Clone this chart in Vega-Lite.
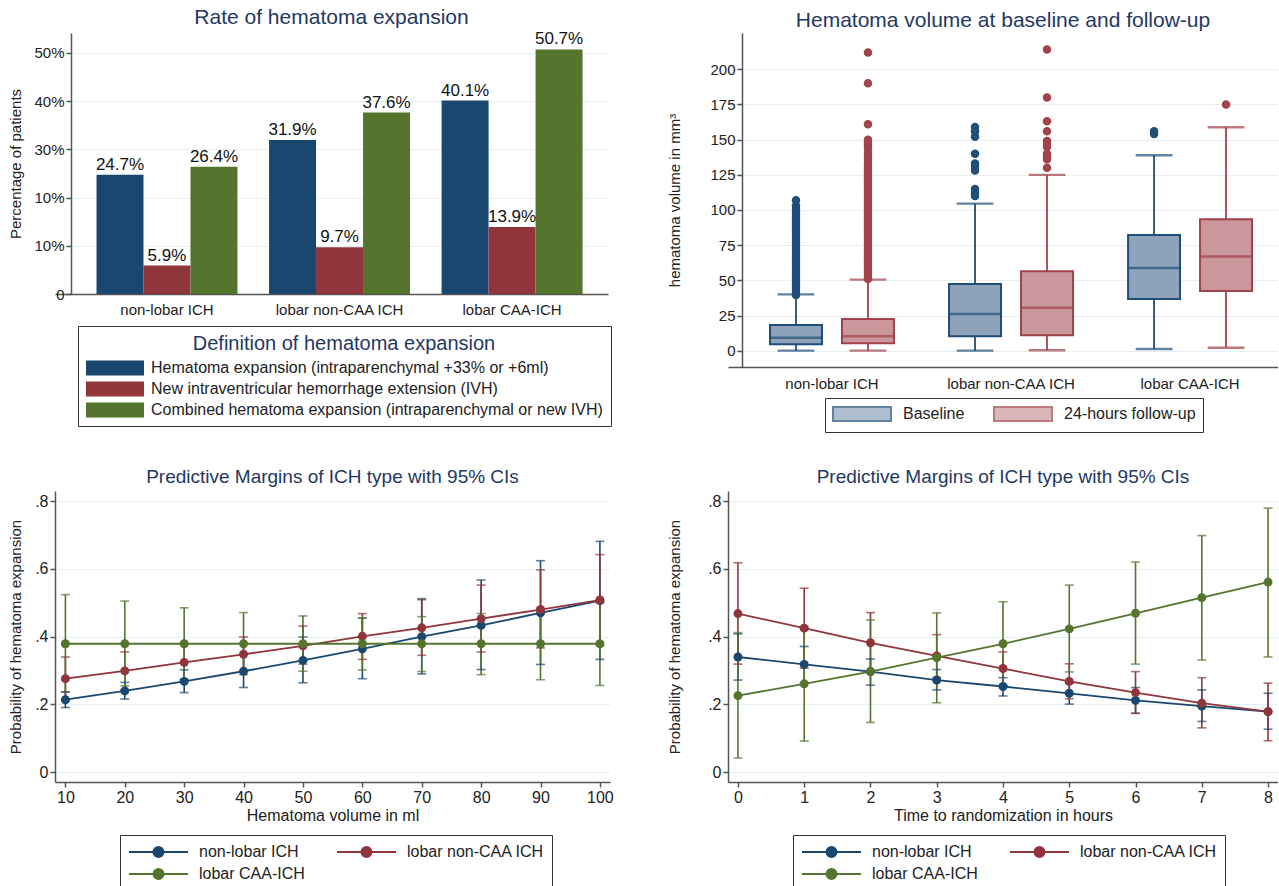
{
  "$schema": "https://vega.github.io/schema/vega-lite/v6.json",
  "background": "white",
  "padding": {"left": 8, "top": 7, "right": 0, "bottom": 0},
  "config": {
    "font": "Liberation Sans",
    "view": {"stroke": null},
    "title": {"font": "Liberation Sans", "fontWeight": "normal", "color": "#1f3864"},
    "axis": {"labelFont": "Liberation Sans", "titleFont": "Liberation Sans", "titleFontWeight": "normal", "labelColor": "#222", "titleColor": "#222", "domainColor": "#555", "domainWidth": 1.5, "tickColor": "#555", "tickWidth": 1.5, "tickSize": 5, "gridColor": "#e8eff2", "gridWidth": 1.2},
    "legend": {"labelFont": "Liberation Sans", "titleFont": "Liberation Sans", "labelColor": "#222"}
  },
  "columns": 2,
  "align": "none",
  "spacing": {"row": 35, "column": 53},
  "resolve": {"scale": {"x": "independent", "y": "independent", "xOffset": "independent", "color": "independent", "fill": "independent", "stroke": "independent"}, "legend": {"color": "independent", "fill": "independent", "stroke": "independent"}},
  "datasets": {
    "bars": [
      {"type": "non-lobar ICH", "def": "Hematoma expansion (intraparenchymal +33% or +6ml)", "pct": 24.7, "label": "24.7%"},
      {"type": "non-lobar ICH", "def": "New intraventricular hemorrhage extension (IVH)", "pct": 5.9, "label": "5.9%"},
      {"type": "non-lobar ICH", "def": "Combined hematoma expansion (intraparenchymal or new IVH)", "pct": 26.4, "label": "26.4%"},
      {"type": "lobar non-CAA ICH", "def": "Hematoma expansion (intraparenchymal +33% or +6ml)", "pct": 31.9, "label": "31.9%"},
      {"type": "lobar non-CAA ICH", "def": "New intraventricular hemorrhage extension (IVH)", "pct": 9.7, "label": "9.7%"},
      {"type": "lobar non-CAA ICH", "def": "Combined hematoma expansion (intraparenchymal or new IVH)", "pct": 37.6, "label": "37.6%"},
      {"type": "lobar CAA-ICH", "def": "Hematoma expansion (intraparenchymal +33% or +6ml)", "pct": 40.1, "label": "40.1%"},
      {"type": "lobar CAA-ICH", "def": "New intraventricular hemorrhage extension (IVH)", "pct": 13.9, "label": "13.9%"},
      {"type": "lobar CAA-ICH", "def": "Combined hematoma expansion (intraparenchymal or new IVH)", "pct": 50.7, "label": "50.7%"}
    ],
    "boxes": [
      {"group": "non-lobar ICH", "time": "Baseline", "lower": 0, "q1": 4.5, "median": 9.2, "q3": 18.2, "upper": 40},
      {"group": "non-lobar ICH", "time": "24-hours follow-up", "lower": 0, "q1": 5.2, "median": 10.2, "q3": 22.5, "upper": 50.5},
      {"group": "lobar non-CAA ICH", "time": "Baseline", "lower": 0, "q1": 10.2, "median": 26, "q3": 47.4, "upper": 104.5},
      {"group": "lobar non-CAA ICH", "time": "24-hours follow-up", "lower": 0.3, "q1": 10.9, "median": 30.6, "q3": 56.4, "upper": 125},
      {"group": "lobar CAA-ICH", "time": "Baseline", "lower": 1.2, "q1": 36.7, "median": 58.8, "q3": 82.2, "upper": 138.9},
      {"group": "lobar CAA-ICH", "time": "24-hours follow-up", "lower": 2.1, "q1": 42.4, "median": 67, "q3": 93.4, "upper": 158.8}
    ],
    "outliers": [
      {"group": "non-lobar ICH", "time": "Baseline", "v": 39.5},
      {"group": "non-lobar ICH", "time": "Baseline", "v": 41},
      {"group": "non-lobar ICH", "time": "Baseline", "v": 43},
      {"group": "non-lobar ICH", "time": "Baseline", "v": 45},
      {"group": "non-lobar ICH", "time": "Baseline", "v": 47},
      {"group": "non-lobar ICH", "time": "Baseline", "v": 49},
      {"group": "non-lobar ICH", "time": "Baseline", "v": 51},
      {"group": "non-lobar ICH", "time": "Baseline", "v": 53},
      {"group": "non-lobar ICH", "time": "Baseline", "v": 55},
      {"group": "non-lobar ICH", "time": "Baseline", "v": 57},
      {"group": "non-lobar ICH", "time": "Baseline", "v": 59},
      {"group": "non-lobar ICH", "time": "Baseline", "v": 61},
      {"group": "non-lobar ICH", "time": "Baseline", "v": 63},
      {"group": "non-lobar ICH", "time": "Baseline", "v": 65},
      {"group": "non-lobar ICH", "time": "Baseline", "v": 67},
      {"group": "non-lobar ICH", "time": "Baseline", "v": 69},
      {"group": "non-lobar ICH", "time": "Baseline", "v": 71},
      {"group": "non-lobar ICH", "time": "Baseline", "v": 73},
      {"group": "non-lobar ICH", "time": "Baseline", "v": 75},
      {"group": "non-lobar ICH", "time": "Baseline", "v": 77},
      {"group": "non-lobar ICH", "time": "Baseline", "v": 79},
      {"group": "non-lobar ICH", "time": "Baseline", "v": 81},
      {"group": "non-lobar ICH", "time": "Baseline", "v": 83},
      {"group": "non-lobar ICH", "time": "Baseline", "v": 85},
      {"group": "non-lobar ICH", "time": "Baseline", "v": 87},
      {"group": "non-lobar ICH", "time": "Baseline", "v": 89},
      {"group": "non-lobar ICH", "time": "Baseline", "v": 91},
      {"group": "non-lobar ICH", "time": "Baseline", "v": 93},
      {"group": "non-lobar ICH", "time": "Baseline", "v": 95},
      {"group": "non-lobar ICH", "time": "Baseline", "v": 97},
      {"group": "non-lobar ICH", "time": "Baseline", "v": 99},
      {"group": "non-lobar ICH", "time": "Baseline", "v": 101},
      {"group": "non-lobar ICH", "time": "Baseline", "v": 103},
      {"group": "non-lobar ICH", "time": "Baseline", "v": 107},
      {"group": "non-lobar ICH", "time": "24-hours follow-up", "v": 51},
      {"group": "non-lobar ICH", "time": "24-hours follow-up", "v": 53},
      {"group": "non-lobar ICH", "time": "24-hours follow-up", "v": 55},
      {"group": "non-lobar ICH", "time": "24-hours follow-up", "v": 57},
      {"group": "non-lobar ICH", "time": "24-hours follow-up", "v": 59},
      {"group": "non-lobar ICH", "time": "24-hours follow-up", "v": 61},
      {"group": "non-lobar ICH", "time": "24-hours follow-up", "v": 63},
      {"group": "non-lobar ICH", "time": "24-hours follow-up", "v": 65},
      {"group": "non-lobar ICH", "time": "24-hours follow-up", "v": 67},
      {"group": "non-lobar ICH", "time": "24-hours follow-up", "v": 69},
      {"group": "non-lobar ICH", "time": "24-hours follow-up", "v": 71},
      {"group": "non-lobar ICH", "time": "24-hours follow-up", "v": 73},
      {"group": "non-lobar ICH", "time": "24-hours follow-up", "v": 75},
      {"group": "non-lobar ICH", "time": "24-hours follow-up", "v": 77},
      {"group": "non-lobar ICH", "time": "24-hours follow-up", "v": 79},
      {"group": "non-lobar ICH", "time": "24-hours follow-up", "v": 81},
      {"group": "non-lobar ICH", "time": "24-hours follow-up", "v": 83},
      {"group": "non-lobar ICH", "time": "24-hours follow-up", "v": 85},
      {"group": "non-lobar ICH", "time": "24-hours follow-up", "v": 87},
      {"group": "non-lobar ICH", "time": "24-hours follow-up", "v": 89},
      {"group": "non-lobar ICH", "time": "24-hours follow-up", "v": 91},
      {"group": "non-lobar ICH", "time": "24-hours follow-up", "v": 93},
      {"group": "non-lobar ICH", "time": "24-hours follow-up", "v": 95},
      {"group": "non-lobar ICH", "time": "24-hours follow-up", "v": 97},
      {"group": "non-lobar ICH", "time": "24-hours follow-up", "v": 99},
      {"group": "non-lobar ICH", "time": "24-hours follow-up", "v": 101},
      {"group": "non-lobar ICH", "time": "24-hours follow-up", "v": 103},
      {"group": "non-lobar ICH", "time": "24-hours follow-up", "v": 105},
      {"group": "non-lobar ICH", "time": "24-hours follow-up", "v": 107},
      {"group": "non-lobar ICH", "time": "24-hours follow-up", "v": 109},
      {"group": "non-lobar ICH", "time": "24-hours follow-up", "v": 111},
      {"group": "non-lobar ICH", "time": "24-hours follow-up", "v": 113},
      {"group": "non-lobar ICH", "time": "24-hours follow-up", "v": 115},
      {"group": "non-lobar ICH", "time": "24-hours follow-up", "v": 117},
      {"group": "non-lobar ICH", "time": "24-hours follow-up", "v": 119},
      {"group": "non-lobar ICH", "time": "24-hours follow-up", "v": 121},
      {"group": "non-lobar ICH", "time": "24-hours follow-up", "v": 123},
      {"group": "non-lobar ICH", "time": "24-hours follow-up", "v": 125},
      {"group": "non-lobar ICH", "time": "24-hours follow-up", "v": 127},
      {"group": "non-lobar ICH", "time": "24-hours follow-up", "v": 129},
      {"group": "non-lobar ICH", "time": "24-hours follow-up", "v": 131},
      {"group": "non-lobar ICH", "time": "24-hours follow-up", "v": 133},
      {"group": "non-lobar ICH", "time": "24-hours follow-up", "v": 136},
      {"group": "non-lobar ICH", "time": "24-hours follow-up", "v": 138},
      {"group": "non-lobar ICH", "time": "24-hours follow-up", "v": 141},
      {"group": "non-lobar ICH", "time": "24-hours follow-up", "v": 144},
      {"group": "non-lobar ICH", "time": "24-hours follow-up", "v": 146},
      {"group": "non-lobar ICH", "time": "24-hours follow-up", "v": 148},
      {"group": "non-lobar ICH", "time": "24-hours follow-up", "v": 150},
      {"group": "non-lobar ICH", "time": "24-hours follow-up", "v": 161},
      {"group": "non-lobar ICH", "time": "24-hours follow-up", "v": 190},
      {"group": "non-lobar ICH", "time": "24-hours follow-up", "v": 212},
      {"group": "lobar non-CAA ICH", "time": "Baseline", "v": 110},
      {"group": "lobar non-CAA ICH", "time": "Baseline", "v": 112},
      {"group": "lobar non-CAA ICH", "time": "Baseline", "v": 115},
      {"group": "lobar non-CAA ICH", "time": "Baseline", "v": 128},
      {"group": "lobar non-CAA ICH", "time": "Baseline", "v": 131},
      {"group": "lobar non-CAA ICH", "time": "Baseline", "v": 133},
      {"group": "lobar non-CAA ICH", "time": "Baseline", "v": 140},
      {"group": "lobar non-CAA ICH", "time": "Baseline", "v": 152},
      {"group": "lobar non-CAA ICH", "time": "Baseline", "v": 156},
      {"group": "lobar non-CAA ICH", "time": "Baseline", "v": 159},
      {"group": "lobar non-CAA ICH", "time": "24-hours follow-up", "v": 130},
      {"group": "lobar non-CAA ICH", "time": "24-hours follow-up", "v": 136},
      {"group": "lobar non-CAA ICH", "time": "24-hours follow-up", "v": 138},
      {"group": "lobar non-CAA ICH", "time": "24-hours follow-up", "v": 140},
      {"group": "lobar non-CAA ICH", "time": "24-hours follow-up", "v": 145},
      {"group": "lobar non-CAA ICH", "time": "24-hours follow-up", "v": 147},
      {"group": "lobar non-CAA ICH", "time": "24-hours follow-up", "v": 149},
      {"group": "lobar non-CAA ICH", "time": "24-hours follow-up", "v": 156},
      {"group": "lobar non-CAA ICH", "time": "24-hours follow-up", "v": 163},
      {"group": "lobar non-CAA ICH", "time": "24-hours follow-up", "v": 180},
      {"group": "lobar non-CAA ICH", "time": "24-hours follow-up", "v": 214},
      {"group": "lobar CAA-ICH", "time": "Baseline", "v": 154},
      {"group": "lobar CAA-ICH", "time": "Baseline", "v": 156},
      {"group": "lobar CAA-ICH", "time": "24-hours follow-up", "v": 175}
    ],
    "margvol": [
      {"type": "non-lobar ICH", "x": 10, "p": 0.214, "lo": 0.191, "hi": 0.237},
      {"type": "non-lobar ICH", "x": 20, "p": 0.240, "lo": 0.216, "hi": 0.265},
      {"type": "non-lobar ICH", "x": 30, "p": 0.268, "lo": 0.235, "hi": 0.302},
      {"type": "non-lobar ICH", "x": 40, "p": 0.298, "lo": 0.250, "hi": 0.348},
      {"type": "non-lobar ICH", "x": 50, "p": 0.330, "lo": 0.264, "hi": 0.399},
      {"type": "non-lobar ICH", "x": 60, "p": 0.364, "lo": 0.276, "hi": 0.455},
      {"type": "non-lobar ICH", "x": 70, "p": 0.400, "lo": 0.290, "hi": 0.512},
      {"type": "non-lobar ICH", "x": 80, "p": 0.433, "lo": 0.303, "hi": 0.567},
      {"type": "non-lobar ICH", "x": 90, "p": 0.470, "lo": 0.318, "hi": 0.624},
      {"type": "non-lobar ICH", "x": 100, "p": 0.506, "lo": 0.333, "hi": 0.681},
      {"type": "lobar non-CAA ICH", "x": 10, "p": 0.276, "lo": 0.212, "hi": 0.340},
      {"type": "lobar non-CAA ICH", "x": 20, "p": 0.299, "lo": 0.243, "hi": 0.355},
      {"type": "lobar non-CAA ICH", "x": 30, "p": 0.324, "lo": 0.272, "hi": 0.378},
      {"type": "lobar non-CAA ICH", "x": 40, "p": 0.348, "lo": 0.298, "hi": 0.399},
      {"type": "lobar non-CAA ICH", "x": 50, "p": 0.373, "lo": 0.319, "hi": 0.431},
      {"type": "lobar non-CAA ICH", "x": 60, "p": 0.401, "lo": 0.333, "hi": 0.468},
      {"type": "lobar non-CAA ICH", "x": 70, "p": 0.426, "lo": 0.345, "hi": 0.509},
      {"type": "lobar non-CAA ICH", "x": 80, "p": 0.453, "lo": 0.355, "hi": 0.552},
      {"type": "lobar non-CAA ICH", "x": 90, "p": 0.480, "lo": 0.367, "hi": 0.597},
      {"type": "lobar non-CAA ICH", "x": 100, "p": 0.508, "lo": 0.374, "hi": 0.642},
      {"type": "lobar CAA-ICH", "x": 10, "p": 0.379, "lo": 0.237, "hi": 0.524},
      {"type": "lobar CAA-ICH", "x": 20, "p": 0.379, "lo": 0.255, "hi": 0.505},
      {"type": "lobar CAA-ICH", "x": 30, "p": 0.379, "lo": 0.274, "hi": 0.485},
      {"type": "lobar CAA-ICH", "x": 40, "p": 0.379, "lo": 0.288, "hi": 0.471},
      {"type": "lobar CAA-ICH", "x": 50, "p": 0.379, "lo": 0.298, "hi": 0.461},
      {"type": "lobar CAA-ICH", "x": 60, "p": 0.379, "lo": 0.302, "hi": 0.455},
      {"type": "lobar CAA-ICH", "x": 70, "p": 0.379, "lo": 0.297, "hi": 0.459},
      {"type": "lobar CAA-ICH", "x": 80, "p": 0.379, "lo": 0.288, "hi": 0.468},
      {"type": "lobar CAA-ICH", "x": 90, "p": 0.379, "lo": 0.273, "hi": 0.483},
      {"type": "lobar CAA-ICH", "x": 100, "p": 0.379, "lo": 0.256, "hi": 0.500}
    ],
    "margtime": [
      {"type": "non-lobar ICH", "x": 0, "p": 0.340, "lo": 0.272, "hi": 0.408},
      {"type": "non-lobar ICH", "x": 1, "p": 0.318, "lo": 0.265, "hi": 0.371},
      {"type": "non-lobar ICH", "x": 2, "p": 0.297, "lo": 0.257, "hi": 0.334},
      {"type": "non-lobar ICH", "x": 3, "p": 0.272, "lo": 0.243, "hi": 0.303},
      {"type": "non-lobar ICH", "x": 4, "p": 0.253, "lo": 0.225, "hi": 0.279},
      {"type": "non-lobar ICH", "x": 5, "p": 0.233, "lo": 0.201, "hi": 0.262},
      {"type": "non-lobar ICH", "x": 6, "p": 0.212, "lo": 0.174, "hi": 0.250},
      {"type": "non-lobar ICH", "x": 7, "p": 0.195, "lo": 0.150, "hi": 0.243},
      {"type": "non-lobar ICH", "x": 8, "p": 0.179, "lo": 0.127, "hi": 0.233},
      {"type": "lobar non-CAA ICH", "x": 0, "p": 0.468, "lo": 0.319, "hi": 0.618},
      {"type": "lobar non-CAA ICH", "x": 1, "p": 0.425, "lo": 0.307, "hi": 0.543},
      {"type": "lobar non-CAA ICH", "x": 2, "p": 0.382, "lo": 0.294, "hi": 0.471},
      {"type": "lobar non-CAA ICH", "x": 3, "p": 0.343, "lo": 0.280, "hi": 0.406},
      {"type": "lobar non-CAA ICH", "x": 4, "p": 0.306, "lo": 0.257, "hi": 0.355},
      {"type": "lobar non-CAA ICH", "x": 5, "p": 0.268, "lo": 0.217, "hi": 0.320},
      {"type": "lobar non-CAA ICH", "x": 6, "p": 0.235, "lo": 0.174, "hi": 0.297},
      {"type": "lobar non-CAA ICH", "x": 7, "p": 0.204, "lo": 0.131, "hi": 0.279},
      {"type": "lobar non-CAA ICH", "x": 8, "p": 0.179, "lo": 0.093, "hi": 0.263},
      {"type": "lobar CAA-ICH", "x": 0, "p": 0.226, "lo": 0.042, "hi": 0.412},
      {"type": "lobar CAA-ICH", "x": 1, "p": 0.261, "lo": 0.092, "hi": 0.430},
      {"type": "lobar CAA-ICH", "x": 2, "p": 0.297, "lo": 0.147, "hi": 0.449},
      {"type": "lobar CAA-ICH", "x": 3, "p": 0.338, "lo": 0.205, "hi": 0.470},
      {"type": "lobar CAA-ICH", "x": 4, "p": 0.379, "lo": 0.255, "hi": 0.503},
      {"type": "lobar CAA-ICH", "x": 5, "p": 0.423, "lo": 0.296, "hi": 0.552},
      {"type": "lobar CAA-ICH", "x": 6, "p": 0.469, "lo": 0.319, "hi": 0.620},
      {"type": "lobar CAA-ICH", "x": 7, "p": 0.515, "lo": 0.331, "hi": 0.698},
      {"type": "lobar CAA-ICH", "x": 8, "p": 0.561, "lo": 0.340, "hi": 0.779}
    ]
  },
  "concat": [
    {
      "width": 553,
      "height": 261,
      "title": {"text": "Rate of hematoma expansion", "fontSize": 21, "offset": 2},
      "data": {"name": "bars"},
      "encoding": {
        "x": {"field": "type", "type": "nominal", "sort": ["non-lobar ICH", "lobar non-CAA ICH", "lobar CAA-ICH"], "scale": {"paddingInner": 0.183, "paddingOuter": 0.194, "align": 0.62}, "axis": {"title": null, "labelAngle": 0, "ticks": false, "labelPadding": 8, "labelFontSize": 15}},
        "xOffset": {"field": "def", "type": "nominal", "sort": ["Hematoma expansion (intraparenchymal +33% or +6ml)", "New intraventricular hemorrhage extension (IVH)", "Combined hematoma expansion (intraparenchymal or new IVH)"], "scale": {"paddingInner": 0, "paddingOuter": 0}},
        "y": {"field": "pct", "type": "quantitative", "scale": {"domain": [0, 54.1], "nice": false, "zero": true}, "axis": {"offset": -16, "title": "Percentage of patients", "titleFontSize": 15, "titlePadding": 10, "labelFontSize": 15, "values": [0, 10, 20, 30, 40, 50], "labelExpr": "datum.value == 0 ? '0' : (datum.value == 20 ? '10%' : datum.value + '%')", "grid": true}}
      },
      "layer": [
        {
          "mark": {"type": "bar"},
          "encoding": {
            "color": {"field": "def", "type": "nominal", "sort": ["Hematoma expansion (intraparenchymal +33% or +6ml)", "New intraventricular hemorrhage extension (IVH)", "Combined hematoma expansion (intraparenchymal or new IVH)"],
              "scale": {"domain": ["Hematoma expansion (intraparenchymal +33% or +6ml)", "New intraventricular hemorrhage extension (IVH)", "Combined hematoma expansion (intraparenchymal or new IVH)"], "range": ["#1a476f", "#90353b", "#55752f"]},
              "legend": {"title": "Definition of hematoma expansion", "orient": "none", "legendX": 23, "legendY": 293, "direction": "vertical", "titleFontSize": 20, "titleFontWeight": "normal", "titleColor": "#1f3864", "titleAnchor": "middle", "titleLimit": 700, "titlePadding": 6, "labelFontSize": 16, "labelLimit": 700, "symbolType": "M-3.625,-0.9375H3.625V0.9375H-3.625Z", "symbolSize": 256, "symbolOffset": 21, "symbolStrokeWidth": 0, "symbolOpacity": 1, "labelOffset": 28, "rowPadding": 5, "strokeColor": "#333", "padding": 8}}
          }
        },
        {
          "mark": {"type": "text", "baseline": "bottom", "dy": -1, "fontSize": 17, "color": "#111"},
          "encoding": {"text": {"field": "label", "type": "nominal"}}
        }
      ]
    },
    {
      "width": 550,
      "height": 334,
      "title": {"text": "Hematoma volume at baseline and follow-up", "fontSize": 21, "offset": 2},
      "encoding": {
        "x": {"field": "group", "type": "nominal", "sort": ["non-lobar ICH", "lobar non-CAA ICH", "lobar CAA-ICH"], "scale": {"paddingInner": 0.196, "paddingOuter": 0.134, "align": 0.667}, "axis": {"title": null, "labelAngle": 0, "ticks": false, "labelPadding": 9, "labelFontSize": 15}},
        "xOffset": {"field": "time", "type": "nominal", "sort": ["Baseline", "24-hours follow-up"], "scale": {"domain": ["Baseline", "24-hours follow-up"], "paddingInner": 0.278, "paddingOuter": 0.139}}
      },
      "layer": [
        {
          "data": {"name": "boxes"},
          "mark": {"type": "rule", "strokeWidth": 1.8},
          "encoding": {
            "y": {"field": "lower", "type": "quantitative", "scale": {"domain": [-11.6, 225.8], "nice": false, "zero": false}, "axis": {"offset": -14, "title": "hematoma volume in mm³", "titleFontSize": 15, "titlePadding": 27, "labelFontSize": 15, "values": [0, 25, 50, 75, 100, 125, 150, 175, 200], "grid": true}},
            "y2": {"field": "q1"},
            "stroke": {"field": "time", "type": "nominal", "scale": {"domain": ["Baseline", "24-hours follow-up"], "range": ["#1f4e79", "#a3424a"]},
              "legend": {"title": null, "orient": "none", "legendX": 97, "legendY": 365, "direction": "horizontal", "labelFontSize": 16, "symbolType": "M-3.625,-0.875H3.625V0.875H-3.625Z", "symbolSize": 256, "symbolOffset": 21, "symbolStrokeWidth": 2, "symbolOpacity": 1, "labelOffset": 32, "columnPadding": 25, "strokeColor": "#333", "padding": 7}}
          }
        },
        {
          "data": {"name": "boxes"},
          "mark": {"type": "rule", "strokeWidth": 1.8},
          "encoding": {
            "y": {"field": "q3", "type": "quantitative"},
            "y2": {"field": "upper"},
            "stroke": {"field": "time", "type": "nominal"}
          }
        },
        {
          "data": {"name": "boxes"},
          "mark": {"type": "tick", "size": 35, "thickness": 0.5, "filled": false, "strokeWidth": 1.8},
          "encoding": {
            "y": {"field": "lower", "type": "quantitative"},
            "stroke": {"field": "time", "type": "nominal"}
          }
        },
        {
          "data": {"name": "boxes"},
          "mark": {"type": "tick", "size": 35, "thickness": 0.5, "filled": false, "strokeWidth": 1.8},
          "encoding": {
            "y": {"field": "upper", "type": "quantitative"},
            "stroke": {"field": "time", "type": "nominal"}
          }
        },
        {
          "data": {"name": "boxes"},
          "mark": {"type": "bar", "strokeWidth": 2, "opacity": 1},
          "encoding": {
            "y": {"field": "q1", "type": "quantitative"},
            "y2": {"field": "q3"},
            "fill": {"field": "time", "type": "nominal", "scale": {"domain": ["Baseline", "24-hours follow-up"], "range": ["#8ea3ba", "#c9979c"]},
              "legend": {"title": null, "orient": "none", "legendX": 97, "legendY": 365, "direction": "horizontal", "labelFontSize": 16, "symbolType": "M-3.625,-0.875H3.625V0.875H-3.625Z", "symbolSize": 256, "symbolOffset": 21, "symbolStrokeWidth": 2, "symbolOpacity": 1, "labelOffset": 32, "columnPadding": 25, "strokeColor": "#333", "padding": 7}},
            "stroke": {"field": "time", "type": "nominal"}
          }
        },
        {
          "data": {"name": "boxes"},
          "mark": {"type": "tick", "size": 52, "thickness": 0.5, "filled": false, "strokeWidth": 2},
          "encoding": {
            "y": {"field": "median", "type": "quantitative"},
            "stroke": {"field": "time", "type": "nominal"}
          }
        },
        {
          "data": {"name": "outliers"},
          "mark": {"type": "point", "shape": "circle", "filled": false, "size": 16, "strokeWidth": 4.5, "opacity": 1},
          "encoding": {
            "y": {"field": "v", "type": "quantitative"},
            "stroke": {"field": "time", "type": "nominal"}
          }
        }
      ]
    },
    {
      "width": 555,
      "height": 291,
      "title": {"text": "Predictive Margins of ICH type with 95% CIs", "fontSize": 19, "offset": 4},
      "data": {"name": "margvol"},
      "encoding": {
        "x": {"field": "x", "type": "quantitative", "scale": {"domain": [8.25, 101.7], "nice": false, "zero": false}, "axis": {"title": "Hematoma volume in ml", "titleFontSize": 16, "titlePadding": 2, "labelFontSize": 16, "values": [10, 20, 30, 40, 50, 60, 70, 80, 90, 100], "grid": false}},
        "color": {"field": "type", "type": "nominal", "scale": {"domain": ["non-lobar ICH", "lobar non-CAA ICH", "lobar CAA-ICH"], "range": ["#1a476f", "#90353b", "#55752f"]},
          "legend": {"title": null, "orient": "none", "legendX": 65, "legendY": 344, "direction": "horizontal", "columns": 2, "labelFontSize": 16, "symbolType": "M-3.69,0H3.69M0.625,0A0.625,0.625,0,1,1,-0.625,0A0.625,0.625,0,1,1,0.625,0", "symbolSize": 256, "symbolOffset": 21.5, "symbolStrokeWidth": 2, "symbolOpacity": 1, "labelOffset": 31.5, "columnPadding": 27, "rowPadding": 4, "strokeColor": "#333", "padding": 8}}
      },
      "layer": [
        {
          "mark": {"type": "rule", "strokeWidth": 1.6},
          "encoding": {
            "y": {"field": "lo", "type": "quantitative", "scale": {"domain": [-0.0286, 0.8295], "nice": false, "zero": false}, "axis": {"title": "Probability of hematoma expansion", "titleFontSize": 15, "titlePadding": 11, "labelFontSize": 16, "values": [0, 0.2, 0.4, 0.6, 0.8], "labelExpr": "datum.value == 0 ? '0' : replace(format(datum.value, '.1f'), '0.', '.')", "grid": true}},
            "y2": {"field": "hi"}
          }
        },
        {"mark": {"type": "tick", "orient": "horizontal", "size": 9, "thickness": 1.6}, "encoding": {"y": {"field": "lo", "type": "quantitative"}}},
        {"mark": {"type": "tick", "orient": "horizontal", "size": 9, "thickness": 1.6}, "encoding": {"y": {"field": "hi", "type": "quantitative"}}},
        {"mark": {"type": "line", "strokeWidth": 1.8}, "encoding": {"y": {"field": "p", "type": "quantitative"}}},
        {"mark": {"type": "circle", "size": 80, "opacity": 1}, "encoding": {"y": {"field": "p", "type": "quantitative"}}}
      ]
    },
    {
      "width": 550,
      "height": 291,
      "title": {"text": "Predictive Margins of ICH type with 95% CIs", "fontSize": 19, "offset": 4},
      "data": {"name": "margtime"},
      "encoding": {
        "x": {"field": "x", "type": "quantitative", "scale": {"domain": [-0.15, 8.15], "nice": false, "zero": false}, "axis": {"title": "Time to randomization in hours", "titleFontSize": 16, "titlePadding": 2, "labelFontSize": 16, "values": [0, 1, 2, 3, 4, 5, 6, 7, 8], "grid": false}},
        "color": {"field": "type", "type": "nominal", "scale": {"domain": ["non-lobar ICH", "lobar non-CAA ICH", "lobar CAA-ICH"], "range": ["#1a476f", "#90353b", "#55752f"]},
          "legend": {"title": null, "orient": "none", "legendX": 65, "legendY": 344, "direction": "horizontal", "columns": 2, "labelFontSize": 16, "symbolType": "M-3.69,0H3.69M0.625,0A0.625,0.625,0,1,1,-0.625,0A0.625,0.625,0,1,1,0.625,0", "symbolSize": 256, "symbolOffset": 21.5, "symbolStrokeWidth": 2, "symbolOpacity": 1, "labelOffset": 31.5, "columnPadding": 27, "rowPadding": 4, "strokeColor": "#333", "padding": 8}}
      },
      "layer": [
        {
          "mark": {"type": "rule", "strokeWidth": 1.6},
          "encoding": {
            "y": {"field": "lo", "type": "quantitative", "scale": {"domain": [-0.0286, 0.8295], "nice": false, "zero": false}, "axis": {"title": "Probability of hematoma expansion", "titleFontSize": 15, "titlePadding": 25, "labelFontSize": 16, "values": [0, 0.2, 0.4, 0.6, 0.8], "labelExpr": "datum.value == 0 ? '0' : replace(format(datum.value, '.1f'), '0.', '.')", "grid": true}},
            "y2": {"field": "hi"}
          }
        },
        {"mark": {"type": "tick", "orient": "horizontal", "size": 9, "thickness": 1.6}, "encoding": {"y": {"field": "lo", "type": "quantitative"}}},
        {"mark": {"type": "tick", "orient": "horizontal", "size": 9, "thickness": 1.6}, "encoding": {"y": {"field": "hi", "type": "quantitative"}}},
        {"mark": {"type": "line", "strokeWidth": 1.8}, "encoding": {"y": {"field": "p", "type": "quantitative"}}},
        {"mark": {"type": "circle", "size": 80, "opacity": 1}, "encoding": {"y": {"field": "p", "type": "quantitative"}}}
      ]
    }
  ]
}
